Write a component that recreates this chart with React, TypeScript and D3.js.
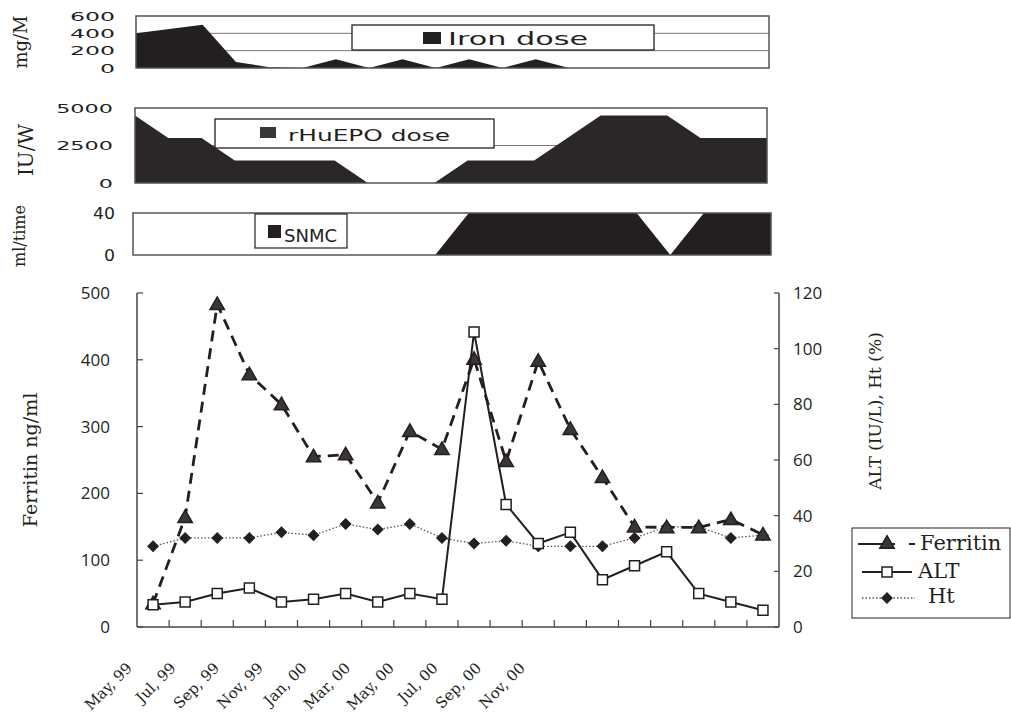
import React from 'react';
import * as d3 from 'd3';

// monthly sampling, May 99 .. Dec 00
const months = ['May 99', 'Jun 99', 'Jul 99', 'Aug 99', 'Sep 99', 'Oct 99', 'Nov 99', 'Dec 99', 'Jan 00', 'Feb 00',
  'Mar 00', 'Apr 00', 'May 00', 'Jun 00', 'Jul 00', 'Aug 00', 'Sep 00', 'Oct 00', 'Nov 00', 'Dec 00'];
const xLabels = ['May, 99', 'Jul, 99', 'Sep, 99', 'Nov, 99', 'Jan, 00', 'Mar, 00', 'May, 00', 'Jul, 00', 'Sep, 00', 'Nov, 00'];

const ironDose = [400, 450, 500, 70, 10, 0, 100, 0, 100, 0, 100, 0, 100, 0, 0, 0, 0, 0, 0, 0];
const epoDose = [4500, 3000, 3000, 1500, 1500, 1500, 1500, 0, 0, 0, 1500, 1500, 1500, 3000, 4500, 4500, 4500, 3000, 3000, 3000];
const snmc = [0, 0, 0, 0, 0, 0, 0, 0, 0, 0, 40, 40, 40, 40, 40, 40, 0, 40, 40, 40];

const ferritin = [35, 164, 483, 378, 333, 255, 258, 186, 293, 266, 401, 248, 398, 296, 224, 150, 149, 149, 161, 138];
const alt = [8, 9, 12, 14, 9, 10, 12, 9, 12, 10, 106, 44, 30, 34, 17, 22, 27, 12, 9, 6];
const ht = [29, 32, 32, 32, 34, 33, 37, 35, 37, 32, 30, 31, 29, 29, 29, 32, 36, 36, 32, 33];

const ironTicks = [600, 400, 200, 0];
const epoTicks = [5000, 2500, 0];
const snmcTicks = [40, 0];
const leftTicks = [0, 100, 200, 300, 400, 500];
const rightTicks = [0, 20, 40, 60, 80, 100, 120];

const INK = '#231f20';
const FRAME = '#555';
const serif = "'DejaVu Serif', serif";
const sans = "'DejaVu Sans', sans-serif";
const gothic = "'Open Sans', sans-serif";

// wide, squashed text like the scanned figure
const Wide = ({ x, y, w, size, anchor = 'start', children }: any) => (
  <text x={anchor === 'end' ? x - w : x} y={y} textLength={w} lengthAdjust="spacingAndGlyphs"
    fontSize={size} fontFamily={sans} fill={INK}>{children}</text>
);

const RotTitle = ({ x, y, size, children }: any) => (
  <text transform={`translate(${x},${y}) rotate(-90)`} textAnchor="middle" fontSize={size}
    fontFamily={serif} fill={INK}>{children}</text>
);

export default function App() {
  // ---- dose panels
  const x1 = d3.scalePoint<string>().domain(months).range([136, 769]);
  const y1 = d3.scaleLinear().domain([0, 600]).range([68, 16]);
  const x2 = d3.scalePoint<string>().domain(months).range([135, 767]);
  const y2 = d3.scaleLinear().domain([0, 5000]).range([183, 108]);
  const x3 = d3.scalePoint<string>().domain(months).range([133, 771]);
  const y3 = d3.scaleLinear().domain([0, 40]).range([255, 213]);

  const areaOf = (xs: any, ys: any) =>
    d3.area<number>().x((_, i) => xs(months[i])).y0(ys(0)).y1(d => ys(d));

  // ---- main chart
  const x = d3.scaleBand<string>().domain(months).range([137, 779]);
  const cx = (i: number) => (x(months[i]) as number) + x.bandwidth() / 2;
  const yL = d3.scaleLinear().domain([0, 500]).range([627, 293]);
  const yR = d3.scaleLinear().domain([0, 120]).range([627, 293]);
  const xl = d3.scalePoint<string>().domain(xLabels).range([133, 526]);

  const lineL = d3.line<number>().x((_, i) => cx(i)).y(d => yL(d));
  const lineR = d3.line<number>().x((_, i) => cx(i)).y(d => yR(d));

  const tri = d3.symbol(d3.symbolTriangle, 90)() as string;
  const sq = d3.symbol(d3.symbolSquare, 100)() as string;
  const dia = d3.symbol(d3.symbolSquare, 56)() as string;

  const triMark = (tx: number, ty: number, k: any) => (
    <path key={k} d={tri} transform={`translate(${tx},${ty + 1})`} fill="#3a3637" stroke={INK} strokeWidth={1.5} />
  );
  const sqMark = (tx: number, ty: number, k: any) => (
    <path key={k} d={sq} transform={`translate(${tx},${ty})`} fill="#fff" stroke={INK} strokeWidth={1.5} />
  );
  const diaMark = (tx: number, ty: number, k: any) => (
    <path key={k} d={dia} transform={`translate(${tx},${ty}) rotate(45)`} fill={INK} stroke={INK} strokeWidth={1} />
  );

  return (
    <svg width={1011} height={725} style={{ position: 'absolute', left: 0, top: 0, background: '#fff' }}>
      {/* Iron dose */}
      <RotTitle x={27} y={42} size={18}>mg/M</RotTitle>
      {ironTicks.map(t => (
        <Wide key={t} x={115} y={y1(t) + 4.5} w={15 * String(t).length} size={12} anchor="end">{t}</Wide>
      ))}
      {[200, 400].map(t => (
        <line key={t} x1={136} x2={769} y1={y1(t)} y2={y1(t)} stroke="#777" strokeWidth={1} />
      ))}
      <path d={areaOf(x1, y1)(ironDose) as string} fill={INK} />
      <rect x={136} y={16} width={633} height={52} fill="none" stroke={FRAME} strokeWidth={1.5} />
      <rect x={352} y={25} width={302} height={25} fill="#fff" stroke={INK} strokeWidth={1.3} />
      <rect x={423} y={32} width={18} height={12} fill={INK} />
      <Wide x={448} y={45} w={140} size={18}>Iron dose</Wide>

      {/* rHuEPO dose */}
      <RotTitle x={33} y={150} size={20}>IU/W</RotTitle>
      {epoTicks.map(t => (
        <Wide key={t} x={113} y={y2(t) + 4.5} w={14.2 * String(t).length} size={12} anchor="end">{t}</Wide>
      ))}
      <line x1={135} x2={767} y1={y2(2500)} y2={y2(2500)} stroke="#777" strokeWidth={1} />
      <path d={areaOf(x2, y2)(epoDose) as string} fill="#2b2728" />
      <rect x={135} y={108} width={632} height={75} fill="none" stroke={FRAME} strokeWidth={1.5} />
      <rect x={215} y={119} width={279} height={29} fill="#fff" stroke={INK} strokeWidth={1.3} />
      <rect x={260} y={127} width={16} height={11} fill="#3a3637" />
      <Wide x={288} y={141} w={162} size={16}>rHuEPO dose</Wide>

      {/* SNMC */}
      <RotTitle x={25} y={236} size={16}>ml/time</RotTitle>
      {snmcTicks.map(t => (
        <Wide key={t} x={115} y={y3(t) + 5.5} w={11 * String(t).length} size={15} anchor="end">{t}</Wide>
      ))}
      <path d={areaOf(x3, y3)(snmc) as string} fill={INK} />
      <rect x={133} y={213} width={638} height={42} fill="none" stroke={FRAME} strokeWidth={1.5} />
      <rect x={255} y={214} width={92} height={34} fill="#fff" stroke={INK} strokeWidth={1.2} />
      <rect x={268} y={225} width={13} height={13} fill={INK} />
      <text x={284} y={242} fontSize={18} fontFamily={sans} fill={INK}>SNMC</text>

      {/* main chart axes */}
      <RotTitle x={37} y={460} size={19}>Ferritin ng/ml</RotTitle>
      <RotTitle x={881} y={411} size={17}>ALT (IU/L), Ht (%)</RotTitle>
      <line x1={137} x2={137} y1={293} y2={627} stroke="#444" strokeWidth={1.5} />
      <line x1={779} x2={779} y1={293} y2={627} stroke="#444" strokeWidth={1.5} />
      <line x1={137} x2={779} y1={627} y2={627} stroke="#444" strokeWidth={1.5} />
      {leftTicks.map(t => (
        <g key={t}>
          <line x1={137} x2={143} y1={yL(t)} y2={yL(t)} stroke="#444" strokeWidth={1.2} />
          <text x={110} y={yL(t) + 6} textAnchor="end" fontSize={17} fontFamily={gothic} fill={INK}>{t}</text>
        </g>
      ))}
      {rightTicks.map(t => (
        <g key={t}>
          <line x1={774} x2={779} y1={yR(t)} y2={yR(t)} stroke="#444" strokeWidth={1.2} />
          <text x={793} y={yR(t) + 6} fontSize={17} fontFamily={gothic} fill={INK}>{t}</text>
        </g>
      ))}
      {months.slice(1).map(m => (
        <line key={m} x1={x(m)} x2={x(m)} y1={627} y2={620} stroke="#444" strokeWidth={1.2} />
      ))}
      {xLabels.map(l => (
        <text key={l} transform={`translate(${xl(l)},669) rotate(-45)`} textAnchor="end" fontSize={15}
          fontFamily={serif} fill={INK}>{l}</text>
      ))}

      {/* series */}
      <path d={lineR(ht) as string} fill="none" stroke="#555" strokeWidth={1.3} strokeDasharray="1.5,2" />
      {ht.map((v, i) => diaMark(cx(i), yR(v), 'h' + i))}
      <path d={lineL(ferritin) as string} fill="none" stroke={INK} strokeWidth={2.8} strokeDasharray="11,7" />
      {ferritin.map((v, i) => triMark(cx(i), yL(v), 'f' + i))}
      <path d={lineR(alt) as string} fill="none" stroke={INK} strokeWidth={2} />
      {alt.map((v, i) => sqMark(cx(i), yR(v), 'a' + i))}

      {/* legend */}
      <rect x={852} y={528} width={158} height={90} fill="#fff" stroke={INK} strokeWidth={1} />
      <line x1={858} x2={895} y1={544} y2={544} stroke={INK} strokeWidth={2} />
      <line x1={909} x2={915} y1={544} y2={544} stroke={INK} strokeWidth={2} />
      {triMark(887, 543, 'lf')}
      <text x={920} y={550} fontSize={21} fontFamily={serif} fill={INK}>Ferritin</text>
      <line x1={862} x2={912} y1={572} y2={572} stroke={INK} strokeWidth={2} />
      {sqMark(887, 572, 'la')}
      <text x={918} y={578} fontSize={21} fontFamily={serif} fill={INK}>ALT</text>
      <line x1={862} x2={915} y1={598} y2={598} stroke="#555" strokeWidth={1.3} strokeDasharray="1.5,2" />
      {diaMark(887, 598, 'lh')}
      <text x={928} y={603} fontSize={21} fontFamily={serif} fill={INK}>Ht</text>
    </svg>
  );
}
